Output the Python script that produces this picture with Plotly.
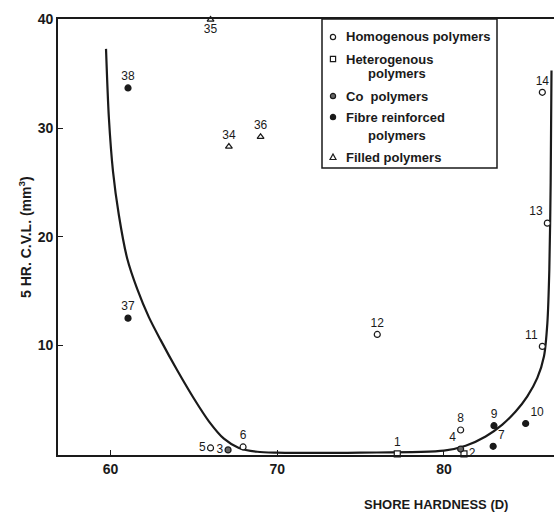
import plotly.graph_objects as go

# ---- data ----
homog_x = [66.0, 67.95, 81.0, 85.9, 76.0, 86.2, 85.9]
homog_y = [0.55, 0.64, 2.2, 9.9, 11.0, 21.25, 33.3]
homog_lbl = ["5", "6", "8", "11", "12", "13", "14"]
homog_pos = ["middle left", "top center", "top center", "top left", "top center", "top left", "top center"]

hetero_x = [77.2, 81.2]
hetero_y = [0.0, 0.0]
hetero_lbl = ["1", "2"]
hetero_pos = ["top center", "middle right"]

co_x = [67.05, 81.0]
co_y = [0.37, 0.45]
co_lbl = ["3", "4"]
co_pos = ["middle left", "top left"]

fibre_x = [82.95, 83.0, 84.9, 61.05, 61.05]
fibre_y = [0.7, 2.6, 2.8, 12.5, 33.7]
fibre_lbl = ["7", "9", "10", "37", "38"]
fibre_pos = ["top right", "top center", "top right", "top center", "top center"]

filled_x = [67.1, 66.0, 69.0]
filled_y = [28.3, 40.0, 29.2]
filled_lbl = ["34", "35", "36"]
filled_pos = ["top center", "bottom center", "top center"]

curve_x = [59.73, 59.9, 60.15, 60.5, 61.0, 61.6, 62.3, 63.0, 64.0, 65.0, 65.9, 66.8, 67.7,
           68.8, 70.0, 75.0, 80.0, 81.3, 82.5, 83.5, 84.3, 85.0, 85.6, 86.0, 86.2,
           86.32, 86.4, 86.45]
curve_y = [37.3, 31.0, 26.0, 22.0, 18.0, 15.2, 12.6, 10.5, 7.7, 5.1, 3.0, 1.4, 0.55,
           0.2, 0.12, 0.12, 0.3, 0.75, 1.6, 2.7, 3.9, 5.3, 7.0, 9.0, 12.0,
           17.0, 25.0, 35.3]

x_ticks = [60, 70, 80]
y_ticks = [10, 20, 30, 40]

legend_names = ["Homogenous polymers", "Heterogenous", "polymers", "Co  polymers",
                "Fibre reinforced", "polymers", "Filled polymers"]

INK = "#1a1a1a"
FONT = "Liberation Sans"

# plot-area geometry (pixels) used for paper-coordinate conversion of the legend box
L, R, T, B = 58, 554, 19, 455
PW, PH = R - L, B - T


def px(xp):
    return (xp - L) / PW


def py(yp):
    return (B - yp) / PH


fig = go.Figure()

fig.add_trace(go.Scatter(x=curve_x, y=curve_y, mode="lines",
                         line=dict(color=INK, width=2.2, shape="spline", smoothing=0.8),
                         showlegend=False, hoverinfo="skip"))


def add_series(name, xs, ys, lbls, pos, symbol, size, fill, lw=1.2):
    fig.add_trace(go.Scatter(
        x=xs, y=ys, mode="markers+text", name=name, showlegend=False,
        text=lbls, textposition=pos,
        textfont=dict(family=FONT, size=12, color=INK),
        marker=dict(symbol=symbol, size=size, color=fill, line=dict(color=INK, width=lw)),
        cliponaxis=False))


add_series("Homogenous polymers", homog_x, homog_y, homog_lbl, homog_pos, "circle", 6, "white")
add_series("Heterogenous polymers", hetero_x, hetero_y, hetero_lbl, hetero_pos, "square", 6, "white")
add_series("Co polymers", co_x, co_y, co_lbl, co_pos, "circle", 6, "#666666")
add_series("Fibre reinforced polymers", fibre_x, fibre_y, fibre_lbl, fibre_pos, "circle", 6, INK)
add_series("Filled polymers", filled_x, filled_y, filled_lbl, filled_pos, "triangle-up", 6, "white")

# ---- legend box ----
shapes = [dict(type="rect", xref="paper", yref="paper", x0=px(322), x1=px(497), y0=py(168), y1=py(19),
               line=dict(color=INK, width=1.5), fillcolor="white", layer="above")]
annotations = []
text_rows = [(344, 37), (344, 59), (366, 73), (344, 96), (344, 117), (366, 135), (344, 157)]
for name, (tx, ty) in zip(legend_names, text_rows):
    annotations.append(dict(text=name, xref="paper", yref="paper", x=px(tx), y=py(ty),
                            xanchor="left", yanchor="middle", showarrow=False,
                            font=dict(family=FONT, size=13, color=INK, weight="bold")))

mx, r = 333, 2.6


def circ(cy, fill):
    return dict(type="circle", xref="paper", yref="paper", x0=px(mx - r), x1=px(mx + r),
                y0=py(cy + r), y1=py(cy - r), line=dict(color=INK, width=1.2), fillcolor=fill, layer="above")


shapes.append(circ(37, "white"))
shapes.append(dict(type="rect", xref="paper", yref="paper", x0=px(mx - r), x1=px(mx + r),
                   y0=py(59 + r), y1=py(59 - r), line=dict(color=INK, width=1.2), fillcolor="white", layer="above"))
shapes.append(circ(96, "#666666"))
shapes.append(circ(117, INK))
ty0 = 157
shapes.append(dict(type="path", xref="paper", yref="paper",
                   path=f"M {px(mx-3)} {py(ty0+2.5)} L {px(mx+3)} {py(ty0+2.5)} L {px(mx)} {py(ty0-3)} Z",
                   line=dict(color=INK, width=1.2), fillcolor="white", layer="above"))

annotations.append(dict(text="SHORE HARDNESS (D)", xref="paper", yref="paper",
                        x=px(436), y=py(504), xanchor="center", yanchor="middle",
                        showarrow=False, font=dict(family=FONT, size=13, color=INK, weight="bold")))
annotations.append(dict(text="5 HR. C.V.L. (mm<sup>3</sup>)", xref="paper", yref="paper",
                        x=px(25), y=py(237), xanchor="center", yanchor="middle", textangle=-90,
                        showarrow=False, font=dict(family=FONT, size=14, color=INK, weight="bold")))

fig.update_layout(
    width=554, height=514,
    margin=dict(l=L, r=554 - R, t=T, b=514 - B),
    paper_bgcolor="white", plot_bgcolor="white",
    font=dict(family=FONT, color=INK),
    showlegend=False,
    shapes=shapes, annotations=annotations,
    xaxis=dict(range=[56.85, 86.6], tickvals=x_ticks, ticks="inside", ticklen=5,
               tickwidth=1.2, tickcolor=INK, showline=True, linecolor=INK, linewidth=1.8,
               mirror=True, showgrid=False, zeroline=False,
               tickfont=dict(family=FONT, size=14, color=INK, weight="bold")),
    yaxis=dict(range=[-0.1, 40.05], tickvals=y_ticks, ticks="inside", ticklen=5,
               tickwidth=1.2, tickcolor=INK, showline=True, linecolor=INK, linewidth=1.8,
               showgrid=False, zeroline=False,
               tickfont=dict(family=FONT, size=14, color=INK, weight="bold")),
)

fig.write_html("out.html")
